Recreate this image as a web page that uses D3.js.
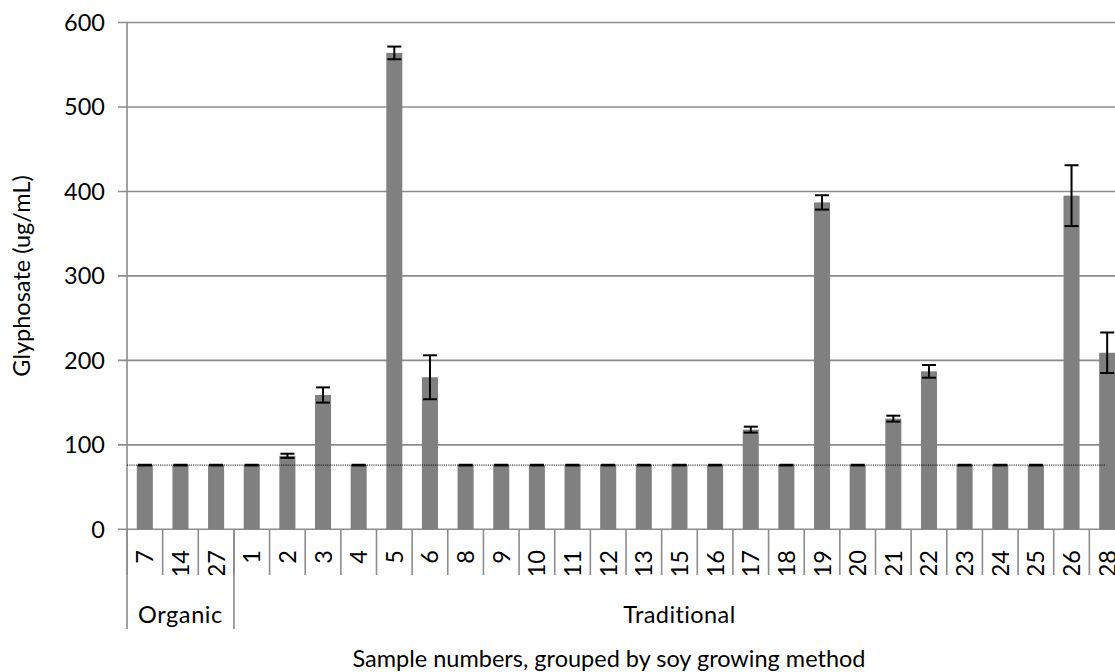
<!DOCTYPE html>
<html>
<head>
<meta charset="utf-8">
<script src="https://cdn.jsdelivr.net/npm/d3@7"></script>
<style>
  body { margin: 0; background: #fff; overflow: hidden; }
  text { font-family: Lato, "Open Sans", sans-serif; fill: #000; }
</style>
</head>
<body>
<script>
// sample numbers, in the order they appear on the axis
var samples = ["7","14","27","1","2","3","4","5","6","8","9","10","11","12","13","15","16","17","18","19","20","21","22","23","24","25","26","28"];
var groupNames = ["Organic", "Traditional"];
var groupSizes = [3, 25];
// glyphosate (ug/mL) and error
var values = [76,76,76,76,87,159,76,564,180,76,76,76,76,76,76,76,76,118,76,387,76,131,187,76,76,76,395,209];
var errors = [0.4,0.4,0.4,0.4,2.5,9,0.4,7.5,26,0.4,0.4,0.4,0.4,0.4,0.4,0.4,0.4,3.5,0.4,8.5,0.4,3.5,7.5,0.4,0.4,0.4,36,24];
var detectLimit = 76;
var yTicks = [0,100,200,300,400,500,600];

var W = 1115, H = 672;
var pLeft = 127, pRight = 1125, pTop = 22.5, pBottom = 529.3;
var fs = '23.5px';

var svg = d3.select('body').append('svg')
    .attr('width', W)
    .attr('height', H);

var x = d3.scaleBand().domain(samples).range([pLeft, pRight]).paddingInner(0.55).paddingOuter(0.275);
var xb = d3.scaleBand().domain(samples).range([pLeft, pRight]); // full bands for separators
var y = d3.scaleLinear().domain([0, 600]).range([pBottom, pTop]);

// gridlines + y ticks
svg.append('g').selectAll('line')
  .data(yTicks)
  .enter().append('line')
  .attr('x1', pLeft - 9).attr('x2', W + 20)
  .attr('y1', function(d) { return y(d); }).attr('y2', function(d) { return y(d); })
  .style('stroke', '#8c8c8c').style('stroke-width', 1.6);

svg.append('g').selectAll('text')
  .data(yTicks)
  .enter().append('text')
  .attr('x', 105).attr('y', function(d) { return y(d); })
  .attr('dy', '0.36em')
  .attr('text-anchor', 'end')
  .style('font-size', fs)
  .text(function(d) { return d; });

// y axis line
svg.append('line')
  .attr('x1', pLeft).attr('x2', pLeft).attr('y1', pTop).attr('y2', pBottom)
  .style('stroke', '#8c8c8c').style('stroke-width', 1.6);

// bars
svg.append('g').selectAll('rect')
  .data(values)
  .enter().append('rect')
  .attr('x', function(d, i) { return x(samples[i]); })
  .attr('width', x.bandwidth())
  .attr('y', function(d) { return y(d); })
  .attr('height', function(d) { return pBottom - y(d); })
  .style('fill', '#808080');

// detection limit line
svg.append('line')
  .attr('x1', pLeft).attr('x2', xb(samples[samples.length - 1]) + xb.bandwidth() / 2 - 1)
  .attr('y1', y(detectLimit)).attr('y2', y(detectLimit))
  .style('stroke', '#000').style('stroke-width', 0.9).style('stroke-dasharray', '1.2,1');

// error bars
var eb = svg.append('g').style('stroke', '#000').style('stroke-width', 2);
values.forEach(function(v, i) {
  var cx = x(samples[i]) + x.bandwidth() / 2;
  var hi = y(v + errors[i]), lo = y(v - errors[i]);
  eb.append('line').attr('x1', cx).attr('x2', cx).attr('y1', hi).attr('y2', lo);
  eb.append('line').attr('x1', cx - 7).attr('x2', cx + 7).attr('y1', hi).attr('y2', hi);
  eb.append('line').attr('x1', cx - 7).attr('x2', cx + 7).attr('y1', lo).attr('y2', lo);
});

// category separators
svg.append('g').selectAll('line')
  .data(samples)
  .enter().append('line')
  .attr('x1', function(d) { return xb(d); }).attr('x2', function(d) { return xb(d); })
  .attr('y1', pBottom).attr('y2', 575)
  .style('stroke', '#8c8c8c').style('stroke-width', 1.6);

// sample labels, clipped like excel does
svg.append('clipPath').attr('id', 'lblclip')
  .append('rect').attr('x', 0).attr('y', pBottom).attr('width', W).attr('height', 575 - pBottom);

svg.append('g').attr('clip-path', 'url(#lblclip)')
  .selectAll('text')
  .data(samples)
  .enter().append('text')
  .attr('transform', function(d) { return 'translate(' + (xb(d) + xb.bandwidth() / 2) + ',550) rotate(-90)'; })
  .attr('dy', '0.36em')
  .attr('text-anchor', 'end')
  .style('font-size', fs)
  .text(function(d) { return d; });

// group separators + names
var starts = [0];
groupSizes.forEach(function(n, i) { starts.push(starts[i] + n); });
var bw = xb.step();
svg.append('g').selectAll('line')
  .data(starts)
  .enter().append('line')
  .attr('x1', function(d) { return pLeft + d * bw; }).attr('x2', function(d) { return pLeft + d * bw; })
  .attr('y1', pBottom).attr('y2', 629)
  .style('stroke', '#8c8c8c').style('stroke-width', 1.6);

svg.append('g').selectAll('text')
  .data(groupNames)
  .enter().append('text')
  .attr('x', function(d, i) { return pLeft + (starts[i] + groupSizes[i] / 2) * bw; })
  .attr('y', 622.5)
  .attr('text-anchor', 'middle')
  .style('font-size', fs)
  .style('letter-spacing', function(d, i) { return i == 0 ? '0.6px' : '0.4px'; })
  .text(function(d) { return d; });

// axis titles
svg.append('text')
  .attr('transform', 'translate(30,276) rotate(-90)')
  .attr('text-anchor', 'middle')
  .style('font-size', fs)
  .text('Glyphosate (ug/mL)');

svg.append('text')
  .attr('x', 609).attr('y', 667)
  .attr('text-anchor', 'middle')
  .style('font-size', fs)
  .text('Sample numbers, grouped by soy growing method');
</script>
</body>
</html>
